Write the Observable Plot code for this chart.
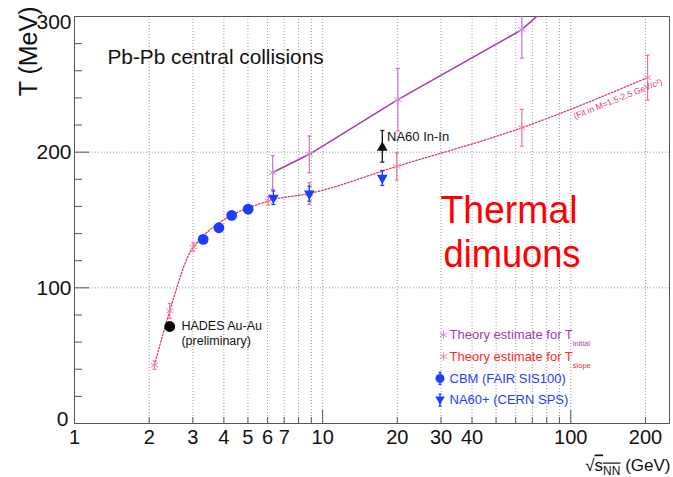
<!DOCTYPE html>
<html><head><meta charset="utf-8">
<script src="https://cdn.jsdelivr.net/npm/d3@7"></script>
<script src="https://cdn.jsdelivr.net/npm/@observablehq/plot@0.6"></script>
<style>
body{margin:0;background:#fff}
#chart svg{font-family:"Liberation Sans",Arial,Helvetica,sans-serif;background:#fff}
</style>
</head><body><div id="chart"></div>
<script>
// ---- data ----
const slopeX   = [2.1, 2.42, 3.01, 6.04, 8.84, 19.9, 63.5, 204];
const slopeT   = [43, 83, 130, 164, 169.5, 189.5, 218, 255];
const slopeErr = [3, 5.5, 3, 3, 8, 10, 13.5, 16.5];

const initX   = [6.29, 8.84, 20.1, 63.5, 204];
const initT   = [185, 198.4, 238.7, 290.3, 373];
const initErr = [12.5, 13.5, 23, 21, 25];

const cbmX = [3.3, 3.82, 4.3, 5.01];
const cbmT = [135.7, 144.3, 153.4, 158];

const na60pX   = [6.33, 8.84, 17.4];
const na60pT   = [166.4, 169.4, 181];
const na60pErr = [5, 5.5, 5.5];

const na60InX = [17.4];
const na60InT = [203.3];
const na60InLo = [192.7];
const na60InHi = [216];

const hadesX = [2.42];
const hadesT = [71.5];

const gridX = [2,3,4,5,6,7,8,9,10,20,30,40,50,60,70,80,90,100,200];
const gridY = [100, 200];
const xLabelTicks = [1,2,3,4,5,6,7,10,20,30,40,100,200];
const xMajorTicks = [10, 100];
const xMinorTicks = [2,3,4,5,6,7,8,9,20,30,40,50,60,70,80,90,200];
const yLabelTicks = [100, 200];
const yZeroTick = [0];
const yTopTick = [300];
const yMajorTicks = [100, 200];
const yMinorTicks = [20,40,60,80,120,140,160,180,220,240,260,280];

const legendLabels = ["Theory estimate for T", "Theory estimate for T", "CBM (FAIR SIS100)", "NA60+ (CERN SPS)"];
const legendSubs = ["initial", "slope", "", ""];

// ---- tables ----
const slope = slopeX.map((x, i) => ({x, T: slopeT[i], e: slopeErr[i]}));
const init = initX.map((x, i) => ({x, T: initT[i], e: initErr[i]}));
const cbm = cbmX.map((x, i) => ({x, T: cbmT[i]}));
const na60p = na60pX.map((x, i) => ({x, T: na60pT[i], e: na60pErr[i]}));
const na60In = na60InX.map((x, i) => ({x, T: na60InT[i], lo: na60InLo[i], hi: na60InHi[i]}));
const hades = hadesX.map((x, i) => ({x, T: hadesT[i]}));

// ---- styles ----
const C_INIT = "#a83cb4", C_INIT_ERR = "#c872cf", C_INIT_STAR = "#d58ad8";
const C_SLOPE = "#e4386c", C_SLOPE_ERR = "#ec6f96", C_SLOPE_STAR = "#f28aa2";
const C_BLUE = "#1f3dff";
const GRID = "#9c9c9c";

const capSymbol = {draw(ctx, size) { const r = Math.sqrt(size / Math.PI); ctx.moveTo(-r, 0); ctx.lineTo(r, 0); }};
const ibeam = {draw(ctx, size) { const r = Math.sqrt(size / Math.PI); ctx.moveTo(0, -r); ctx.lineTo(0, r); ctx.moveTo(-1.5, -r); ctx.lineTo(1.5, -r); ctx.moveTo(-1.5, r); ctx.lineTo(1.5, r); }};

const FONT = "Liberation Sans, Arial, Helvetica, sans-serif";

function errBars(data, color, lo, hi, w) {
  return [
    Plot.ruleX(data, {x: "x", y1: lo, y2: hi, stroke: color, strokeWidth: w, clip: true}),
    Plot.dot(data, {x: "x", y: lo, symbol: capSymbol, r: 2, stroke: color, strokeWidth: w, clip: true}),
    Plot.dot(data, {x: "x", y: hi, symbol: capSymbol, r: 2, stroke: color, strokeWidth: w, clip: true})
  ];
}

// legend layout (pixels from frame top-left)
const LEG_DX_TEXT = 375, LEG_DX_STAR = 369, LEG_DX_BLUE = 365.5, LEG_DY0 = 318.3, LEG_STEP = 21.8;
const legendColors = ["#a23cb8", "#ff2a2a", C_BLUE, C_BLUE];

const legendMarks = [
  Plot.dot([0], {frameAnchor: "top-left", dx: LEG_DX_STAR, dy: LEG_DY0, symbol: "asterisk", r: 4, stroke: C_INIT_STAR, strokeWidth: 1}),
  Plot.dot([0], {frameAnchor: "top-left", dx: LEG_DX_STAR, dy: LEG_DY0 + LEG_STEP, symbol: "asterisk", r: 4, stroke: C_SLOPE_STAR, strokeWidth: 1}),
  Plot.dot([0], {frameAnchor: "top-left", dx: LEG_DX_BLUE, dy: LEG_DY0 + 2 * LEG_STEP, symbol: ibeam, r: 6, stroke: C_BLUE, strokeWidth: 1.2}),
  Plot.dot([0], {frameAnchor: "top-left", dx: LEG_DX_BLUE, dy: LEG_DY0 + 2 * LEG_STEP, symbol: "circle", r: 4.5, fill: C_BLUE}),
  Plot.dot([0], {frameAnchor: "top-left", dx: LEG_DX_BLUE, dy: LEG_DY0 + 3 * LEG_STEP, symbol: ibeam, r: 6, stroke: C_BLUE, strokeWidth: 1.2}),
  Plot.dot([0], {frameAnchor: "top-left", dx: LEG_DX_BLUE, dy: LEG_DY0 + 3 * LEG_STEP - 1, symbol: "triangle", r: 3.5, fill: C_BLUE, rotate: 180}),
  ...legendLabels.map((lab, i) => Plot.text([lab], {
    frameAnchor: "top-left", dx: LEG_DX_TEXT, dy: LEG_DY0 + i * LEG_STEP,
    textAnchor: "start", lineAnchor: "middle", fontSize: 13, fill: legendColors[i]
  }))
];

const plot = Plot.plot({
  width: 673, height: 477,
  marginLeft: 74, marginRight: 4, marginTop: 16, marginBottom: 54,
  x: {type: "log", domain: [1, 250]},
  y: {domain: [0, 300]},
  style: {fontFamily: FONT, background: "#fff", color: "#111"},
  marks: [
    Plot.ruleX(gridX, {stroke: GRID, strokeDasharray: "1,2", strokeWidth: 1}),
    Plot.ruleY(gridY, {stroke: GRID, strokeDasharray: "1,2", strokeWidth: 1}),

    // axes
    Plot.text(xLabelTicks, {x: d => d, text: d => String(d), frameAnchor: "bottom", dy: 6, lineAnchor: "top", textAnchor: "middle", fontSize: 20, fill: "#111"}),
    Plot.axisX({ticks: xMajorTicks, tickSize: -13, fill: "none", label: null, stroke: "#555"}),
    Plot.axisX({ticks: xMinorTicks, tickSize: -6, fill: "none", label: null, stroke: "#555"}),
    Plot.axisY({ticks: yLabelTicks, tickSize: 0, tickPadding: 3, fontSize: 21, label: null}),
    Plot.axisY({ticks: yZeroTick, tickSize: 0, tickPadding: 6, fontSize: 21, label: null, dy: -4}),
    Plot.axisY({ticks: yTopTick, tickSize: 0, tickPadding: 3, fontSize: 21, label: null, dy: 6}),
    Plot.axisY({ticks: yMajorTicks, tickSize: -15, fill: "none", label: null, stroke: "#555"}),
    Plot.axisY({ticks: yMinorTicks, tickSize: -8, fill: "none", label: null, stroke: "#555"}),
    Plot.frame({stroke: "#555", strokeWidth: 1}),

    // T_slope theory
    Plot.line(slope, {x: "x", y: "T", stroke: C_SLOPE, strokeWidth: 1.3, strokeDasharray: "1.6,1.8", curve: "monotone-x", clip: true}),
    ...errBars(slope, C_SLOPE_ERR, d => d.T - d.e, d => d.T + d.e, 1.2),
    Plot.dot(slope, {x: "x", y: "T", symbol: "asterisk", r: 4, stroke: C_SLOPE_STAR, strokeWidth: 1, clip: true}),

    // T_initial theory
    Plot.line(init, {x: "x", y: "T", stroke: C_INIT, strokeWidth: 1.6, clip: true}),
    ...errBars(init, C_INIT_ERR, d => d.T - d.e, d => d.T + d.e, 1.2),
    Plot.dot(init, {x: "x", y: "T", symbol: "asterisk", r: 4, stroke: C_INIT_STAR, strokeWidth: 1, clip: true}),

    // CBM
    Plot.dot(cbm, {x: "x", y: "T", r: 5.4, fill: C_BLUE}),

    // NA60+
    ...errBars(na60p, C_BLUE, d => d.T - d.e, d => d.T + d.e, 1.3),
    Plot.dot(na60p, {x: "x", y: "T", symbol: "triangle", r: 4, fill: C_BLUE, rotate: 180}),

    // NA60 In-In
    ...errBars(na60In, "#111", "lo", "hi", 1.3),
    Plot.dot(na60In, {x: "x", y: "T", symbol: "triangle", r: 4, fill: "#111"}),
    Plot.text(na60In, {x: "x", y: "T", text: () => "NA60 In-In", dx: 4.7, dy: -11.3, textAnchor: "start", lineAnchor: "middle", fontSize: 13, fill: "#111"}),

    // HADES
    Plot.dot(hades, {x: "x", y: "T", r: 5.4, fill: "#000"}),
    Plot.text(hades, {x: "x", y: "T", text: () => "HADES Au-Au", dx: 11.7, dy: 0, textAnchor: "start", lineAnchor: "middle", fontSize: 12.5, fill: "#111"}),
    Plot.text(hades, {x: "x", y: "T", text: () => "(preliminary)", dx: 11.7, dy: 14.5, textAnchor: "start", lineAnchor: "middle", fontSize: 12.5, fill: "#111"}),

    // annotations
    Plot.text(["Pb-Pb central collisions"], {frameAnchor: "top-left", dx: 33, dy: 47, textAnchor: "start", lineAnchor: "bottom", fontSize: 20.8, fill: "#111"}),
    Plot.text(["(Fit in M=1.5-2.5 GeV/c²)"], {frameAnchor: "top-left", dx: 543.3, dy: 82.5, textAnchor: "middle", lineAnchor: "middle", rotate: -22, fontSize: 8.6, fill: C_SLOPE}),
    Plot.text(["Thermal"], {frameAnchor: "top-left", dx: 434.5, dy: 206, textAnchor: "middle", lineAnchor: "bottom", fontSize: 38, fill: "#ff0000"}),
    Plot.text(["dimuons"], {frameAnchor: "top-left", dx: 437.5, dy: 250, textAnchor: "middle", lineAnchor: "bottom", fontSize: 38, fill: "#ff0000"}),

    // axis titles
    Plot.text(["T (MeV)"], {frameAnchor: "top-left", dx: -38, dy: -10, rotate: -90, textAnchor: "end", lineAnchor: "bottom", fontSize: 25, fill: "#111"}),
    Plot.text(["√"], {frameAnchor: "bottom-right", dx: 1, dy: 47, textAnchor: "end", lineAnchor: "bottom", fontSize: 17, fill: "#111"}),

    ...legendMarks
  ]
});

document.getElementById("chart").appendChild(plot);

// ---- text refinements: subscripts, squeezed text, radical ----
const svg = d3.select(plot);
const findText = s => svg.selectAll("text").filter(function() { return this.textContent === s; });
const theoryTexts = findText(legendLabels[0]).nodes();
legendSubs.forEach((s, i) => {
  if (!s || !theoryTexts[i]) return;
  d3.select(theoryTexts[i]).append("tspan").attr("dy", 7).attr("font-size", 7.5).text(s);
});
findText("Thermal").attr("textLength", 137).attr("lengthAdjust", "spacingAndGlyphs");
findText("dimuons").attr("textLength", 137).attr("lengthAdjust", "spacingAndGlyphs");
const xt = findText("√");
xt.text("");
xt.append("tspan").text("√");
xt.append("tspan").attr("text-decoration", "overline").text("s");
xt.append("tspan").attr("dy", 4).attr("font-size", 12).attr("text-decoration", "overline").text("NN");
xt.append("tspan").attr("dy", -4).text(" (GeV)");
</script>
</body></html>
